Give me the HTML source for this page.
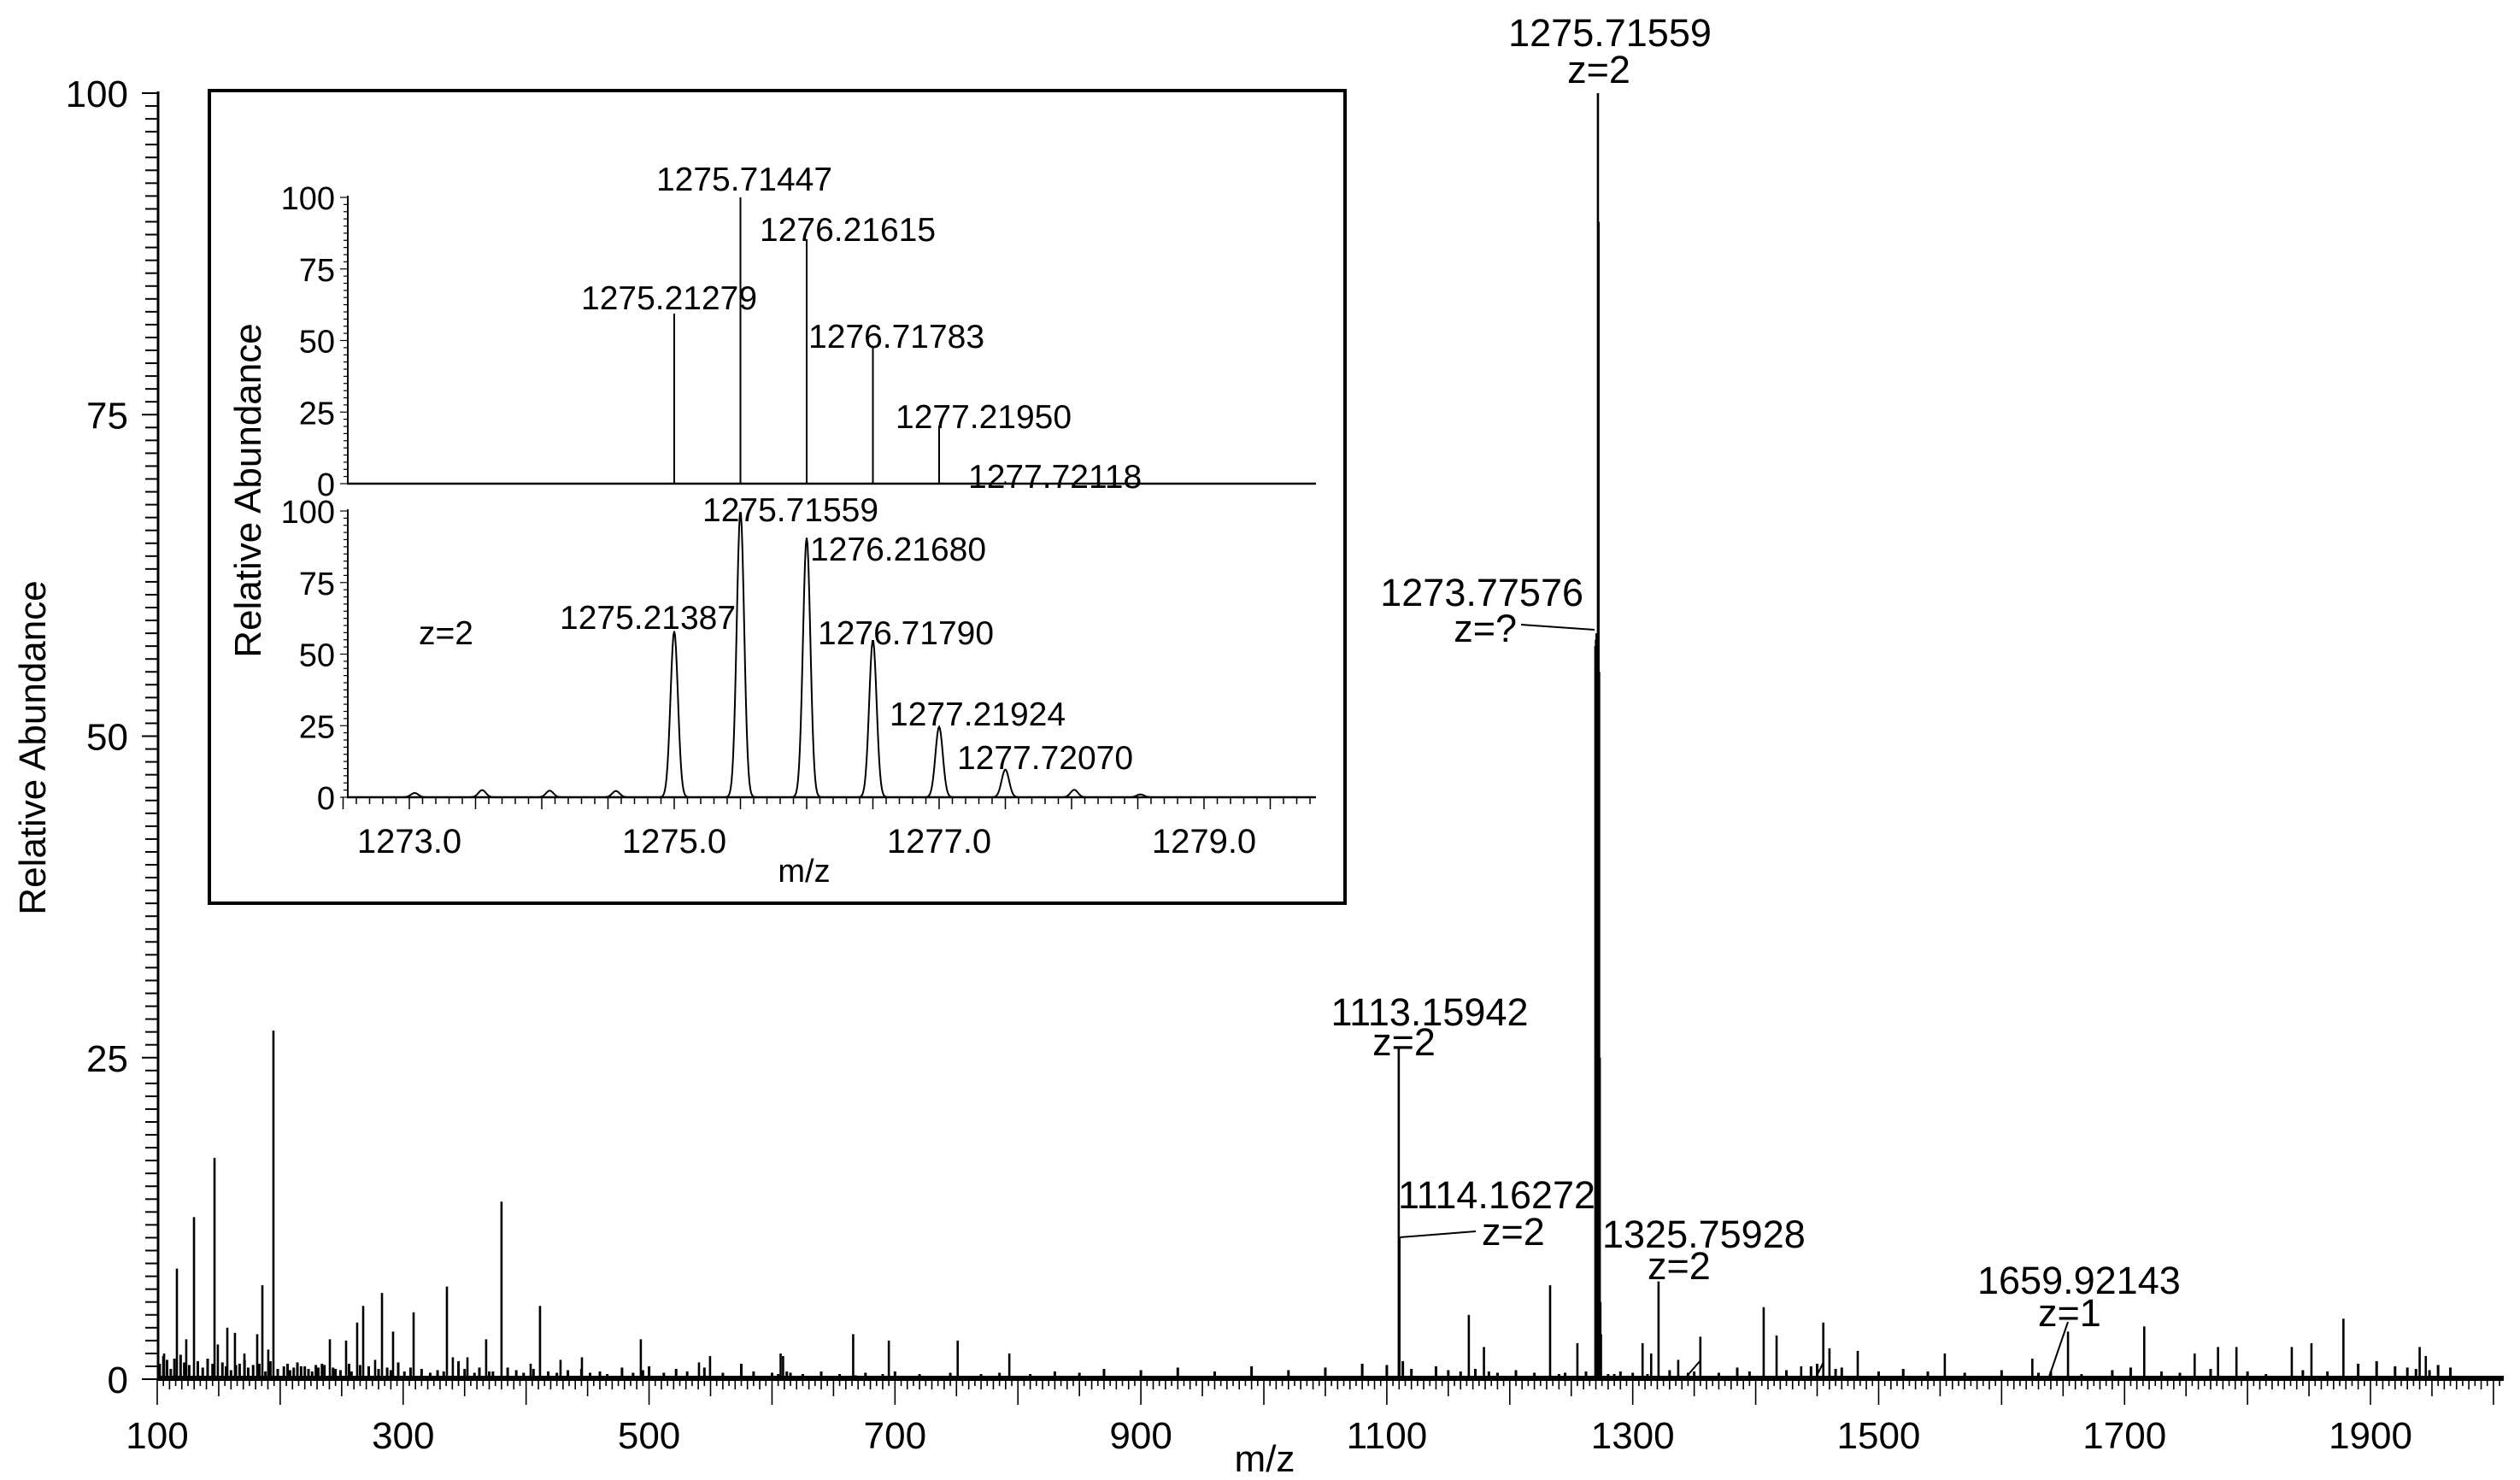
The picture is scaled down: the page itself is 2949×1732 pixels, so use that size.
<!DOCTYPE html>
<html><head><meta charset="utf-8"><style>
html,body{margin:0;padding:0;background:#fff;}
svg{display:block;font-family:"Liberation Sans",Arial,sans-serif;}
</style></head><body>
<svg id="chart" width="2949" height="1732" viewBox="0 0 2949 1732" xmlns="http://www.w3.org/2000/svg">
<rect x="0" y="0" width="2949" height="1732" fill="#fff"/>
<g id="main"></g>
<g id="inset"></g>
</svg>
<script>
// ---------- main spectrum data ----------
const peakMz = [105.6,116,123.6,129.9,146.6,149.3,157,163.2,170.9,181.3,185.5,190.3,194.5,240.4,253.6,262.6,267.5,277.2,282.8,291.8,308.5,335.6,340.4,352.3,367.5,380,403.7,411.3,428,445.4,493.3,540.6,549.6,607,609,666,695,751,793,1109.7,1110.3,1166.7,1179,1232.8,1255,1269.6,1270.1,1270.6,1271.2,1271.7,1272.2,1272.7,1273.2,1273.7,1274.2,1308,1315,1321,1337,1355,1406.5,1417,1437,1455,1460,1483,1553.8,1625,1654,1716,1757,1776,1791,1836,1852,1878,1940,1945];
const peakVal = [2,8.6,3.1,12.6,17.2,2.7,4,3.6,2,3.5,7.3,2.3,27.1,3.1,3,4.4,5.7,1.5,6.7,3.7,5.2,7.2,1.7,1.7,3.1,13.8,1.2,5.7,1.5,1.7,3.1,1.3,1.8,2,1.8,3.5,3,3,2,25.7,11.1,5,2.5,7.3,2.8,57,57.5,58,58,100,90,55,25,6,3.5,2.8,2,7.6,1.5,3.3,5.6,3.4,1,4.4,2.4,2.2,2,1.6,3.7,4.1,2,2.5,2.5,2.5,2.8,4.7,2.5,1.8];
const noiseMz = [102,105,108,111,114,119,122,126,133,137,141,145,153,156,160,164,167,171,174,178,183,188,192,198,203,206,208,211,214,217,220,223,226,229,231,234,236,243,245,249,256,258,265,272,280,287,290,296,301,306,315,322,328,333,345,350,358,362,370,373,385,392,398,406,418,425,434,445,452,460,466,478,487,495,500,512,522,531,545,560,575,585,600,605,612,615,625,640,655,668,676,690,700,720,745,770,785,810,830,850,870,900,930,960,990,1020,1050,1080,1100,1113,1120,1140,1150,1160,1172,1183,1190,1205,1220,1240,1245,1262,1280,1285,1290,1300,1312,1330,1345,1350,1370,1385,1395,1425,1445,1450,1465,1470,1500,1520,1540,1570,1600,1630,1640,1665,1690,1705,1730,1745,1770,1800,1815,1845,1865,1890,1905,1920,1930,1937,1948,1955,1965];
const noiseVal = [1.2,1.8,1.5,0.8,1.6,1.9,1.3,1.1,1.4,0.9,1.6,1.2,1.3,1.0,0.7,1.1,1.2,1.5,0.9,1.1,1.2,0.6,1.4,0.8,1.0,1.2,0.7,0.9,1.3,1.0,1.0,0.8,0.6,1.1,0.9,1.2,1.1,0.9,0.8,0.7,1.2,0.6,1.1,1.0,0.8,0.9,0.7,1.3,0.6,0.9,0.8,0.5,0.7,0.6,1.4,0.8,0.5,0.9,0.6,0.6,0.9,0.7,0.5,0.8,0.6,0.5,0.7,0.8,0.5,0.6,0.4,0.9,0.5,0.7,1.0,0.5,0.8,0.6,0.9,0.5,1.2,0.6,0.5,0.4,0.6,0.5,0.4,0.6,0.4,0.3,0.5,0.4,0.6,0.4,0.5,0.4,0.5,0.4,0.6,0.5,0.8,0.7,0.9,0.6,1.0,0.7,0.9,1.2,1.1,1.4,0.8,1.0,0.7,0.6,0.8,0.6,0.5,0.7,0.5,0.4,0.5,0.6,0.4,0.4,0.6,0.5,0.4,0.7,0.5,0.6,0.5,0.9,0.6,0.7,1.0,1.2,0.8,0.9,0.6,0.8,0.6,0.5,0.7,0.5,0.6,0.4,0.7,0.9,0.6,0.5,0.8,0.6,0.4,0.7,0.6,1.2,1.4,1.0,0.9,0.8,0.7,1.1,0.9];
const xTicks = [100,300,500,700,900,1100,1300,1500,1700,1900];
const yTicks = [0,25,50,75,100];

// ---------- inset data ----------
const theoMz = [1275.0,1275.5,1276.0,1276.5,1277.0,1277.5];
const theoVal = [59.4,100,85.4,47.7,20.2,0.8];
const theoLabels = ["1275.21279","1275.71447","1276.21615","1276.71783","1277.21950","1277.72118"];
const obsMz = [1273.04,1273.55,1274.06,1274.56,1275.0,1275.5,1276.0,1276.5,1277.0,1277.5,1278.02,1278.52];
const obsVal = [1.5,2.5,2.3,2.2,58,100,90.7,55,24.6,9.7,2.6,1.0];
const obsLabels = ["1275.21387","1275.71559","1276.21680","1276.71790","1277.21924","1277.72070"];
const insetXTicks = [1273.0,1275.0,1277.0,1279.0];
const insetYTicks = [0,25,50,75,100];

const NS="http://www.w3.org/2000/svg";
function mk(parent,tag,attrs){const e=document.createElementNS(NS,tag);for(const k in attrs)e.setAttribute(k,attrs[k]);parent.appendChild(e);return e;}
function txt(parent,x,y,s,size,anchor){const t=mk(parent,'text',{x:x,y:y,'font-size':size,'text-anchor':anchor||'start',fill:'#000'});t.textContent=s;return t;}

const X=m=>184+(m-100)*1.4389;
const Y=v=>1614-v*15.05;
const main=document.getElementById('main');

noiseMz.forEach((m,i)=>{
  if(noiseVal[i]===undefined) return;
  const l=mk(main,'line',{x1:X(m),y1:Y(0),x2:X(m),y2:Y(noiseVal[i]),stroke:'#000','stroke-width':3});
  
  
});
peakMz.forEach((m,i)=>{
  if(peakVal[i]===undefined) return;
  const l=mk(main,'line',{x1:X(m),y1:Y(0),x2:X(m),y2:Y(peakVal[i]),stroke:'#000','stroke-width':2.6});
  
  
});

const ax=mk(main,'line',{x1:184,y1:1613,x2:2930,y2:1613,stroke:'#000','stroke-width':6});


const ay=mk(main,'line',{x1:185,y1:107,x2:185,y2:1616,stroke:'#000','stroke-width':3});


for(let v=0;v<=100;v++){
  const big=v%25===0;
  mk(main,'line',{x1:big?166:170,y1:Y(v),x2:185,y2:Y(v),stroke:'#000','stroke-width':2});
}
for(let m=100;m<=2005;m+=5){
  const len=m%100===0?30:(m%50===0?20:(m%10===0?12:8));
  mk(main,'line',{x1:X(m),y1:1614,x2:X(m),y2:1614+len,stroke:'#000','stroke-width':1.6});
}
xTicks.forEach(v=>{const t=txt(main,X(v),1695,String(v),44,'middle');
  
  });
yTicks.forEach(v=>{const t=txt(main,150,Y(v)+16,String(v),44,'end');
  
  });
const xt=txt(main,1480,1722,'m/z',44,'middle');


const yt=mk(main,'text',{x:0,y:0,'font-size':44,'text-anchor':'middle',transform:'translate(53,875) rotate(-90)'});
yt.textContent='Relative Abundance';



const ann=[
 ["1275.71559",1884,54,'middle'],["z=2",1871,97,'middle'],
 ["1273.77576",1853,709,'end'],["z=?",1775,751,'end'],
 ["1113.15942",1673,1200,'middle'],["z=2",1643,1235,'middle'],
 ["1114.16272",1636,1414,'start'],["z=2",1734,1457,'start'],
 ["1325.75928",1875,1460,'start'],["z=2",1928,1497,'start'],
 ["1659.92143",2314,1514,'start'],["z=1",2385,1552,'start']];
ann.forEach(a=>{const t=txt(main,a[1],a[2],a[0],45,a[3]);
  
  });
[[1780,731,1866,737],[1638,1448,1727,1441],[1971,1614,1990,1592],[2124,1614,2134,1594],[2397,1614,2420,1547]].forEach(s=>{
  const l=mk(main,'line',{x1:s[0],y1:s[1],x2:s[2],y2:s[3],stroke:'#000','stroke-width':2});
  
  
});

const ins=document.getElementById('inset');
const box=mk(ins,'rect',{x:245,y:106,width:1329,height:951,fill:'#fff',stroke:'#000','stroke-width':4});


const IX=m=>789+(m-1275)*155;
const TY=v=>566-v*3.35;
const BY=v=>933-v*3.35;

[[TY,'top'],[BY,'bottom']].forEach(([f,n])=>{
  const a=mk(ins,'line',{x1:406,y1:f(0),x2:1540,y2:f(0),stroke:'#000','stroke-width':2.5});
  
  
  const b=mk(ins,'line',{x1:407,y1:f(100)-2,x2:407,y2:f(0),stroke:'#000','stroke-width':2});
  
  
  for(let v=0;v<=100;v+=2.5){mk(ins,'line',{x1:v%25===0?398:402,y1:f(v),x2:407,y2:f(v),stroke:'#000','stroke-width':1.2});}
  insetYTicks.forEach(v=>{const t=txt(ins,392,f(v)+14,String(v),38,'end');
    
    });
});
for(let m=1272.5;m<=1279.85;m+=0.1){
  const r=Math.round(m*10)/10;
  const len=(Math.round(r*10)%5===0)?14:8;
  mk(ins,'line',{x1:IX(r),y1:933,x2:IX(r),y2:933+len,stroke:'#000','stroke-width':1.5});
}
insetXTicks.forEach(v=>{const t=txt(ins,IX(v),998,v.toFixed(1),40,'middle');
  
  });
const ixt=txt(ins,941,1032,'m/z',38,'middle');


const iyt=mk(ins,'text',{x:0,y:0,'font-size':44,'text-anchor':'middle',transform:'translate(305,574) rotate(-90)'});
iyt.textContent='Relative Abundance';



theoMz.forEach((m,i)=>{
  const l=mk(ins,'line',{x1:IX(m),y1:TY(0),x2:IX(m),y2:TY(theoVal[i]),stroke:'#000','stroke-width':2});
  
  
});
let d='';
const xs=406, xe=1540;
for(let px=xs;px<=xe;px+=1){
  const m=1275+(px-789)/155;
  let v=0;
  obsMz.forEach((c,i)=>{const dx=(m-c)/0.028;v=Math.max(v,obsVal[i]*Math.exp(-dx*dx/2));});
  d+=(px===xs?'M':'L')+px+','+BY(v).toFixed(1);
}
const prof=mk(ins,'path',{d:d,fill:'none',stroke:'#000','stroke-width':2});



const tpos=[[680,362,'start'],[871,223,'middle'],[889,282,'start'],[946,407,'start'],[1048,501,'start'],[1133,571,'start']];
theoLabels.forEach((s,i)=>{const t=txt(ins,tpos[i][0],tpos[i][1],s,39,tpos[i][2]);
  
  });
const bpos=[[655,736],[822,610],[948,656],[957,754],[1041,849],[1120,900]];
obsLabels.forEach((s,i)=>{const p=bpos[i];const t=txt(ins,p[0],p[1],s,39,'start');
  
  });
const z=txt(ins,490,754,'z=2',39,'start');


</script>
</body></html>
